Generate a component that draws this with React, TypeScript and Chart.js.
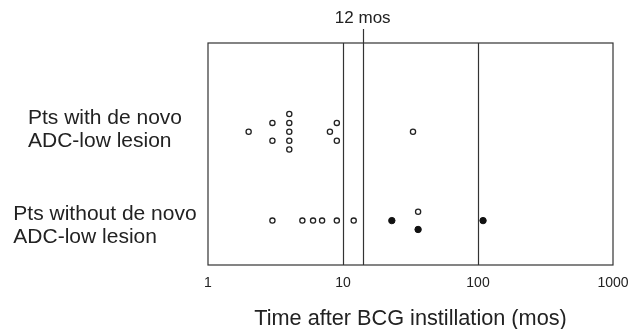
import React, { useEffect, useRef } from 'react';
import { Chart, registerables } from 'chart.js';

Chart.register(...registerables);

// ---- data ----
const xTickValues = [1, 10, 100, 1000];
const rowLabels = [
  ['Pts with de novo', 'ADC-low lesion'],
  ['Pts without de novo', 'ADC-low lesion'],
];
const rowLabelPositions = [6.1, 1.75];

const withLesionOpenX = [2, 3, 3, 4, 4, 4, 4, 4, 8, 9, 9, 33];
const withLesionOpenY = [6, 6.4, 5.6, 6.8, 6.4, 6, 5.6, 5.2, 6, 6.4, 5.6, 6];

const withoutLesionOpenX = [3, 5, 6, 7, 9, 12, 36];
const withoutLesionOpenY = [2, 2, 2, 2, 2, 2, 2.4];

const withoutLesionFilledX = [23, 36, 109];
const withoutLesionFilledY = [2, 1.6, 2];

const referenceLines = [10, 14, 100];
const markedLineValue = 14;
const markedLineLabel = '12 mos';
const xAxisTitle = 'Time after BCG instillation (mos)';

const INK = '#222';
const LINE = '#333';
const FONT = "'Liberation Sans', Arial, Helvetica, sans-serif";

const toPoints = (xs: number[], ys: number[]) => xs.map((x, i) => ({ x, y: ys[i] }));

const framePlugin = {
  id: 'frame',
  beforeDatasetsDraw(chart: any) {
    const { ctx, chartArea } = chart;
    const xs = chart.scales.x;
    ctx.save();
    ctx.strokeStyle = LINE;
    ctx.lineWidth = 1.2;
    ctx.strokeRect(chartArea.left, chartArea.top, chartArea.right - chartArea.left, chartArea.bottom - chartArea.top);
    referenceLines.forEach((v) => {
      const px = Math.round(xs.getPixelForValue(v)) + 0.5;
      const top = v === markedLineValue ? chartArea.top - 14 : chartArea.top;
      ctx.beginPath();
      ctx.moveTo(px, top);
      ctx.lineTo(px, chartArea.bottom);
      ctx.stroke();
    });
    const mx = xs.getPixelForValue(markedLineValue);
    ctx.fillStyle = INK;
    ctx.font = `17px ${FONT}`;
    ctx.textAlign = 'center';
    ctx.textBaseline = 'middle';
    ctx.fillText(markedLineLabel, mx, chartArea.top - 25);
    ctx.restore();
  },
  afterDraw(chart: any) {
    const { ctx } = chart;
    const ys = chart.scales.y;
    ctx.save();
    ctx.fillStyle = INK;
    ctx.font = `21px ${FONT}`;
    ctx.textAlign = 'left';
    ctx.textBaseline = 'middle';
    const centerX = 105;
    const lineGap = 23;
    rowLabels.forEach((lines, i) => {
      const cy = ys.getPixelForValue(rowLabelPositions[i]);
      const w = Math.max(...lines.map((l) => ctx.measureText(l).width));
      const left = centerX - w / 2;
      lines.forEach((l, j) => {
        const y = cy + (j - (lines.length - 1) / 2) * lineGap;
        ctx.fillText(l, left, y);
      });
    });
    ctx.restore();
  },
};

export default function App() {
  const ref = useRef<HTMLCanvasElement | null>(null);

  useEffect(() => {
    document.body.style.margin = '0';
    const canvas = ref.current;
    if (!canvas) return;
    const chart = new Chart(canvas, {
      type: 'scatter',
      data: {
        datasets: [
          {
            label: 'with open',
            data: toPoints(withLesionOpenX, withLesionOpenY),
            pointRadius: 2.6,
            pointBorderWidth: 1.3,
            pointBackgroundColor: '#fff',
            pointBorderColor: INK,
          },
          {
            label: 'without open',
            data: toPoints(withoutLesionOpenX, withoutLesionOpenY),
            pointRadius: 2.6,
            pointBorderWidth: 1.3,
            pointBackgroundColor: '#fff',
            pointBorderColor: INK,
          },
          {
            label: 'without filled',
            data: toPoints(withoutLesionFilledX, withoutLesionFilledY),
            pointRadius: 3.2,
            pointBorderWidth: 1,
            pointBackgroundColor: '#111',
            pointBorderColor: '#111',
          },
        ],
      },
      options: {
        responsive: false,
        animation: false,
        devicePixelRatio: 1,
        layout: { padding: { left: 208, right: 20, top: 43, bottom: 0 } },
        plugins: { legend: { display: false }, tooltip: { enabled: false } },
        scales: {
          x: {
            type: 'logarithmic',
            min: 1,
            max: 1000,
            grid: { display: false, drawTicks: false },
            border: { display: false },
            afterBuildTicks: (scale: any) => {
              scale.ticks = xTickValues.map((v) => ({ value: v }));
            },
            afterFit: (scale: any) => {
              scale.height = 64;
              scale.paddingRight = 0;
              scale.paddingLeft = 0;
            },
            ticks: {
              autoSkip: false,
              maxRotation: 0,
              padding: 10,
              color: INK,
              font: { family: FONT, size: 14 },
              callback: (v: any) => String(v),
            },
            title: {
              display: true,
              text: xAxisTitle,
              color: INK,
              font: { family: FONT, size: 21.7, lineHeight: 1 },
              padding: { top: 0, bottom: -1 },
            },
          },
          y: {
            type: 'linear',
            min: 0,
            max: 10,
            display: false,
          },
        },
      },
      plugins: [framePlugin],
    });
    return () => chart.destroy();
  }, []);

  return (
    <div style={{ width: 633, height: 329, background: '#fff' }}>
      <canvas ref={ref} width={633} height={329} />
    </div>
  );
}
